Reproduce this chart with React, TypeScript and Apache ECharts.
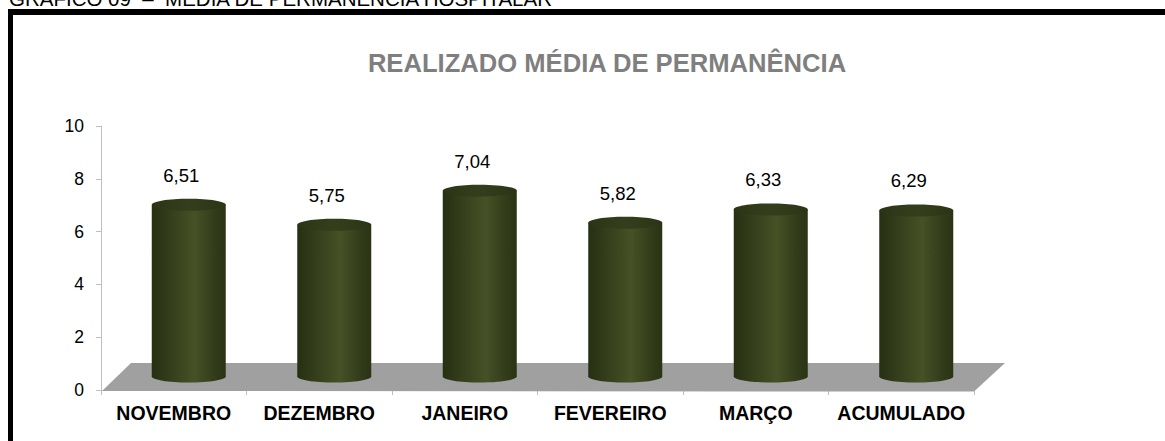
import React, { useEffect, useRef } from "react";
import * as echarts from "echarts";

const categories = ["NOVEMBRO", "DEZEMBRO", "JANEIRO", "FEVEREIRO", "MARÇO", "ACUMULADO"];
const values = [6.51, 5.75, 7.04, 5.82, 6.33, 6.29];
const yTicks = { min: 0, max: 10, interval: 2 };
const heading = "GRÁFICO 09  –  MÉDIA DE PERMANÊNCIA HOSPITALAR";
const chartTitle = "REALIZADO MÉDIA DE PERMANÊNCIA";

const FONT = '"Liberation Sans", Arial, sans-serif';
const DEPTH_X = 15;
const DEPTH_Y = -13.5;
const CYL_W = 74;
const CYL_RY = 6;

const bodyFill = () =>
  new echarts.graphic.LinearGradient(0, 0, 1, 0, [
    { offset: 0, color: "#262f12" },
    { offset: 0.25, color: "#343e1b" },
    { offset: 0.58, color: "#465126" },
    { offset: 0.85, color: "#323c1a" },
    { offset: 1, color: "#2a3314" },
  ]);
const capFill = () =>
  new echarts.graphic.LinearGradient(0, 0, 1, 0, [
    { offset: 0, color: "#2b3415" },
    { offset: 0.5, color: "#353e1c" },
    { offset: 1, color: "#2b3415" },
  ]);

function renderFloor(_params: any, api: any) {
  const band = api.size([1, 0])[0];
  const first = api.coord([0, 0]);
  const last = api.coord([categories.length - 1, 0]);
  const x0 = first[0] - band / 2 + 1;
  const x1 = last[0] + band / 2;
  const y = first[1];
  return {
    type: "polygon",
    shape: {
      points: [
        [x0, y + 1],
        [x1, y + 1.5],
        [x1 + 31, y - 27],
        [x0 + 29, y - 27],
      ],
    },
    style: { fill: "#a0a0a0" },
  };
}

function renderCylinder(_params: any, api: any) {
  const idx = api.value(0);
  const val = api.value(1);
  const top = api.coord([idx, val]);
  const base = api.coord([idx, 0]);
  const cx = top[0] + DEPTH_X;
  const yTop = top[1] + DEPTH_Y;
  const yBase = base[1] + DEPTH_Y;
  const rx = CYL_W / 2;
  return {
    type: "group",
    children: [
      {
        type: "ellipse",
        shape: { cx, cy: yBase, rx, ry: CYL_RY },
        style: { fill: bodyFill() },
      },
      {
        type: "rect",
        shape: { x: cx - rx, y: yTop, width: CYL_W, height: yBase - yTop },
        style: { fill: bodyFill() },
      },
      {
        type: "ellipse",
        shape: { cx, cy: yTop, rx, ry: CYL_RY },
        style: { fill: capFill() },
      },
      {
        type: "text",
        style: {
          x: cx - 7.5,
          y: yTop - 29.5,
          text: val.toFixed(2).replace(".", ","),
          fill: "#000000",
          font: `18.5px ${FONT}`,
          align: "center",
          verticalAlign: "middle",
        },
      },
    ],
  };
}

export default function App() {
  const ref = useRef<HTMLDivElement>(null);
  useEffect(() => {
    const chart = echarts.init(ref.current!, undefined, { renderer: "svg" });
    chart.setOption({
      animation: false,
      backgroundColor: "#ffffff",
      grid: { left: 101, right: 191, top: 126, height: 264 },
      xAxis: {
        type: "category",
        data: categories,
        axisLine: { lineStyle: { color: "#bfbfbf", width: 1 } },
        axisTick: { show: true, length: 5, lineStyle: { color: "#bfbfbf" } },
        axisLabel: {
          color: "#000000",
          fontFamily: FONT,
          fontSize: 19.5,
          fontWeight: "bold",
          margin: 13,
          interval: 0,
        },
      },
      yAxis: {
        type: "value",
        min: yTicks.min,
        max: yTicks.max,
        interval: yTicks.interval,
        splitLine: { show: false },
        axisLine: { show: true, lineStyle: { color: "#bfbfbf", width: 1 } },
        axisTick: { show: true, length: 5, lineStyle: { color: "#bfbfbf" } },
        axisLabel: { color: "#000000", fontFamily: FONT, fontSize: 17.5, margin: 17 },
      },
      graphic: [
        { type: "rect", shape: { x: 8, y: 9, width: 1157, height: 6 }, style: { fill: "#000000" } },
        { type: "rect", shape: { x: 8, y: 9, width: 5, height: 432 }, style: { fill: "#000000" } },
        {
          type: "text",
          x: 9,
          y: -12,
          style: { text: heading, fill: "#000000", font: `20.5px ${FONT}` },
        },
        {
          type: "text",
          x: 607,
          y: 63,
          style: {
            text: chartTitle,
            fill: "#7f7f7f",
            font: `bold 25.6px ${FONT}`,
            align: "center",
            verticalAlign: "middle",
          },
        },
      ],
      series: [
        {
          type: "custom",
          name: "Piso",
          data: [[0, 0]],
          coordinateSystem: "cartesian2d",
          renderItem: renderFloor,
          silent: true,
          z: 1,
          clip: false,
        },
        {
          type: "custom",
          name: "Realizado",
          data: values.map((v, i) => [i, v]),
          encode: { x: 0, y: 1 },
          coordinateSystem: "cartesian2d",
          renderItem: renderCylinder,
          z: 3,
          clip: false,
        },
      ],
    });
    return () => chart.dispose();
  }, []);
  return (
    <div
      ref={ref}
      style={{ position: "fixed", left: 0, top: 0, width: 1165, height: 441 }}
    />
  );
}
